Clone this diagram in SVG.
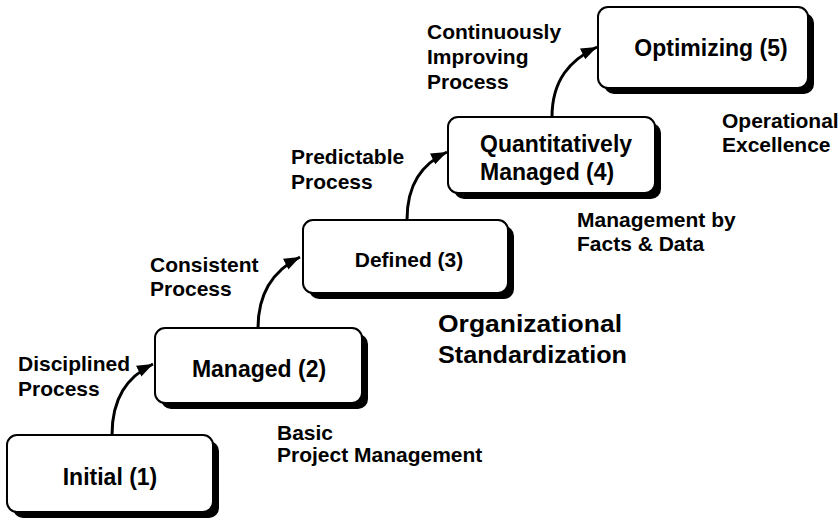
<svg xmlns="http://www.w3.org/2000/svg" width="840" height="520" viewBox="0 0 840 520">
<style>
.shadow{fill:#000}
.box{fill:#fff;stroke:#000;stroke-width:2}
.t{font-family:"Liberation Sans",Arial,sans-serif;font-weight:bold;fill:#000}
.nl{font-size:23px}
.ol{font-size:20px}
.big{font-size:23px}
.arrow{fill:none;stroke:#000;stroke-width:3}
</style>
<defs>
<marker id="ah" markerUnits="userSpaceOnUse" markerWidth="18" markerHeight="14" refX="16" refY="6" orient="auto" viewBox="0 0 18 12">
<path d="M0,0 L16,6 L0,12 Z" fill="#000"/>
</marker>
</defs>
<rect width="840" height="520" fill="#fff"/>

<g id="connectors">
<path class="arrow" d="M112,435 C112,398 127,377 153,364" marker-end="url(#ah)"/>
<path class="arrow" d="M258,328 C258,292 274,270 300,257" marker-end="url(#ah)"/>
<path class="arrow" d="M407,220 C407,184 422,164 447,152" marker-end="url(#ah)"/>
<path class="arrow" d="M552,117 C552,80 570,60 597,47" marker-end="url(#ah)"/>
</g>

<g id="n1">
<rect class="shadow" x="13" y="441" width="206" height="77" rx="10"/>
<rect class="box" x="7" y="435" width="206" height="77" rx="10"/>
<text class="t nl" x="110" y="485" text-anchor="middle">Initial (1)</text>
</g>
<g id="n2">
<rect class="shadow" x="161" y="334" width="207" height="75" rx="10"/>
<rect class="box" x="155" y="328" width="207" height="75" rx="10"/>
<text class="t nl" x="259" y="377" text-anchor="middle">Managed (2)</text>
</g>
<g id="n3">
<rect class="shadow" x="309" y="226" width="205" height="73" rx="10"/>
<rect class="box" x="303" y="220" width="205" height="73" rx="10"/>
<text class="t" font-size="21" x="409" y="267" text-anchor="middle">Defined (3)</text>
</g>
<g id="n4">
<rect class="shadow" x="454" y="123" width="207" height="76" rx="10"/>
<rect class="box" x="448" y="117" width="207" height="76" rx="10"/>
<text class="t nl" x="480" y="152">Quantitatively<tspan x="480" y="180">Managed (4)</tspan></text>
</g>
<g id="n5">
<rect class="shadow" x="604" y="13" width="210" height="81" rx="10"/>
<rect class="box" x="598" y="7" width="210" height="81" rx="10"/>
<text class="t nl" x="711" y="56" text-anchor="middle">Optimizing (5)</text>
</g>

<g id="labels">
<text class="t ol" transform="translate(18,371) scale(1.05,1)"><tspan x="0" y="0">Disciplined</tspan><tspan x="0" y="25">Process</tspan></text>
<text class="t ol" transform="translate(150,272) scale(1.05,1)"><tspan x="0" y="0">Consistent</tspan><tspan x="0" y="24">Process</tspan></text>
<text class="t ol" transform="translate(291,164) scale(1.05,1)"><tspan x="0" y="0">Predictable</tspan><tspan x="0" y="25">Process</tspan></text>
<text class="t ol" transform="translate(427,39) scale(1.05,1)"><tspan x="0" y="0">Continuously</tspan><tspan x="0" y="25">Improving</tspan><tspan x="0" y="50">Process</tspan></text>
<text class="t ol" transform="translate(722,128) scale(1.05,1)"><tspan x="0" y="0">Operational</tspan><tspan x="0" y="24">Excellence</tspan></text>
<text class="t ol" transform="translate(577,227) scale(1.05,1)"><tspan x="0" y="0">Management by</tspan><tspan x="0" y="24">Facts &amp; Data</tspan></text>
<text class="t ol" transform="translate(277,440) scale(1.05,1)"><tspan x="0" y="0">Basic</tspan><tspan x="0" y="22">Project Management</tspan></text>
<text class="t big" x="438" y="332" textLength="184" lengthAdjust="spacingAndGlyphs">Organizational</text>
<text class="t big" x="438" y="363" textLength="189" lengthAdjust="spacingAndGlyphs">Standardization</text>
</g>
</svg>
